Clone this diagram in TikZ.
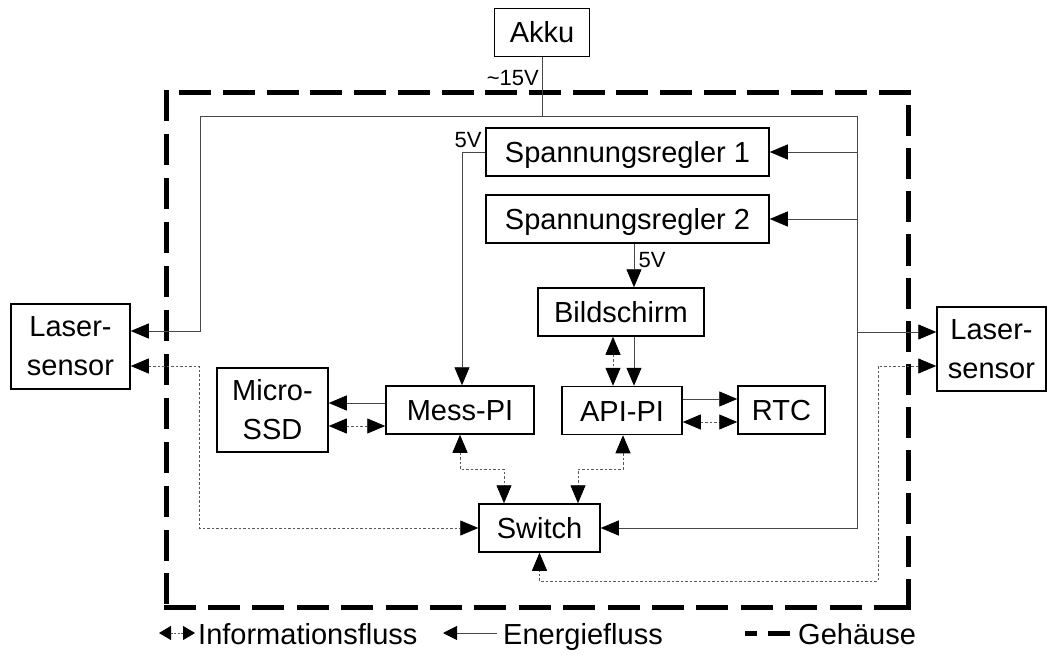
\documentclass[tikz,border=0pt]{standalone}
\usepackage{fontspec}
\setmainfont{Liberation Sans}
\usetikzlibrary{arrows.meta,calc}

\begin{document}
\begin{tikzpicture}[x=1pt,y=-1pt,
  box/.style={draw=black, line width=1.5pt, inner sep=0pt, align=center,
    font=\fontsize{29}{39}\selectfont},
  one/.style={box, minimum height=48pt, text height=21pt, text depth=0pt},
  pow/.style={draw=black!72, line width=0.9pt},
  powtip/.style={pow, -{Triangle[length=18pt,width=15pt,black]}},
  info/.style={draw=black!65, line width=0.8pt, dash pattern=on 2.5pt off 2pt,
    {Triangle[length=18pt,width=15pt,black]}-{Triangle[length=18pt,width=15pt,black]}},
  infoleg/.style={draw=black!65, line width=0.8pt, dash pattern=on 2pt off 1.5pt,
    {Triangle[length=12pt,width=14pt,black]}-{Triangle[length=12pt,width=14pt,black]}},
  powleg/.style={pow, -{Triangle[length=14pt,width=14pt,black]}},
  lbl/.style={font=\fontsize{22}{25}\selectfont, inner sep=0pt},
  leg/.style={font=\fontsize{29}{34}\selectfont, inner sep=0pt, anchor=base west},
  hull/.style={line width=5pt, line cap=rect}
]
\useasboundingbox (0,0) rectangle (1047,655);

% housing, one side at a time so that the corners close as drawn
\coordinate (hTL) at (166,93);
\coordinate (hBL) at (166,607);
\coordinate (hBR) at (908,607);
\coordinate (hTR) at (908,93);
\draw[hull, dash pattern=on 26pt off 17.9pt] (hTL) -- (hBL);
\draw[hull, dash pattern=on 27pt off 17.4pt] (hBL) -- (hBR);
\draw[hull, dash pattern=on 26pt off 17pt]   (hBR) -- (hTR);
\draw[hull, dash pattern=on 27pt off 16.7pt] (hTR) -- (hTL);

% blocks
\node[one, minimum width=95pt]  (akku)   at (542,32.5)   {Akku};
\node[one, minimum width=283pt] (sr1)    at (627.5,152)  {Spannungsregler 1};
\node[one, minimum width=283pt] (sr2)    at (627.5,219)  {Spannungsregler 2};
\node[one, minimum width=166pt] (bild)   at (621,312)    {Bildschirm};
\node[one, minimum width=148pt] (mess)   at (460,410)    {Mess-PI};
\node[one, minimum width=120pt] (api)    at (622,410.5)  {API-PI};
\node[one, minimum width=87pt]  (rtc)    at (781.5,410)  {RTC};
\node[one, minimum width=121pt] (switch) at (539.5,528)  {Switch};
\node[box, minimum width=111pt, minimum height=84pt] (ssd)  at (272.5,410) {Micro-\\SSD};
\node[box, minimum width=119pt, minimum height=85pt] (lasL) at (70.5,346.5) {Laser-\\sensor};
\node[box, minimum width=109pt, minimum height=84pt] (lasR) at (991.5,349)  {Laser-\\sensor};

% bend points
\coordinate (busL) at (200,116);
\coordinate (busR) at (857,116);
\coordinate (kM) at (504,469);
\coordinate (kA) at (578,469);
\coordinate (kL) at (199,528);
\coordinate (kR) at (878,581);

% energy flow
\draw[pow] (akku.south) -- (akku.south |- busL);
\draw[pow] (busL) -- (busR);
\draw[powtip] (busL) |- ([yshift=15.5pt]lasL.east);
\draw[powtip] (busR) |- (sr1.east);
\draw[powtip] (busR) |- (sr2.east);
\draw[powtip] (busR) |- ([yshift=17pt]lasR.west);
\draw[powtip] (busR) |- (switch.east);
\draw[powtip] (sr1.west) -| ([xshift=2pt]mess.north);
\draw[powtip] ([xshift=6.5pt]sr2.south) -- ([xshift=13pt]bild.north);
\draw[powtip] ([xshift=13pt]bild.south) -- ([xshift=12pt]api.north);
\draw[powtip] ([yshift=11.5pt]api.east) -- ([yshift=11pt]rtc.west);
\draw[powtip] ([yshift=7pt]mess.west) -- ([yshift=7pt]ssd.east);

% information flow
\draw[info] ([xshift=-8pt]bild.south) -- ([xshift=-9pt]api.north);
\draw[info] ([yshift=-11.5pt]api.east) -- ([yshift=-12pt]rtc.west);
\draw[info] ([yshift=-16pt]mess.west) -- ([yshift=-16pt]ssd.east);
\draw[info] (mess.south) |- (kM) -- ([xshift=-35.5pt]switch.north);
\draw[info] ([xshift=1pt]api.south) |- (kA) -- ([xshift=38.5pt]switch.north);
\draw[info] ([yshift=-19.5pt]lasL.east) -| (kL) -- (switch.west);
\draw[info] ([yshift=-17pt]lasR.west) -| (kR) -| (switch.south);

% voltage labels
\node[lbl, anchor=east] (v15) at (539,78)  {\textasciitilde15V};
\node[lbl] (v5a) at (468,140) {5V};
\node[lbl] (v5b) at (652,260) {5V};

% legend
\coordinate (la) at (159,633);
\coordinate (lb) at (195,633);
\draw[infoleg] (la) -- (lb);
\node[leg] (tInfo) at (198,644) {Informationsfluss};
\coordinate (lc) at (497,633);
\coordinate (ld) at (443,633);
\draw[powleg] (lc) -- (ld);
\node[leg] (tEn) at (503,644) {Energiefluss};
\coordinate (le1) at (745,633);
\coordinate (le2) at (757,633);
\coordinate (le3) at (768,633);
\coordinate (le4) at (790,633);
\draw[line width=5pt] (le1) -- (le2);
\draw[line width=5pt] (le3) -- (le4);
\node[leg] (tG) at (798,644) {Gehäuse};
\end{tikzpicture}
\end{document}
